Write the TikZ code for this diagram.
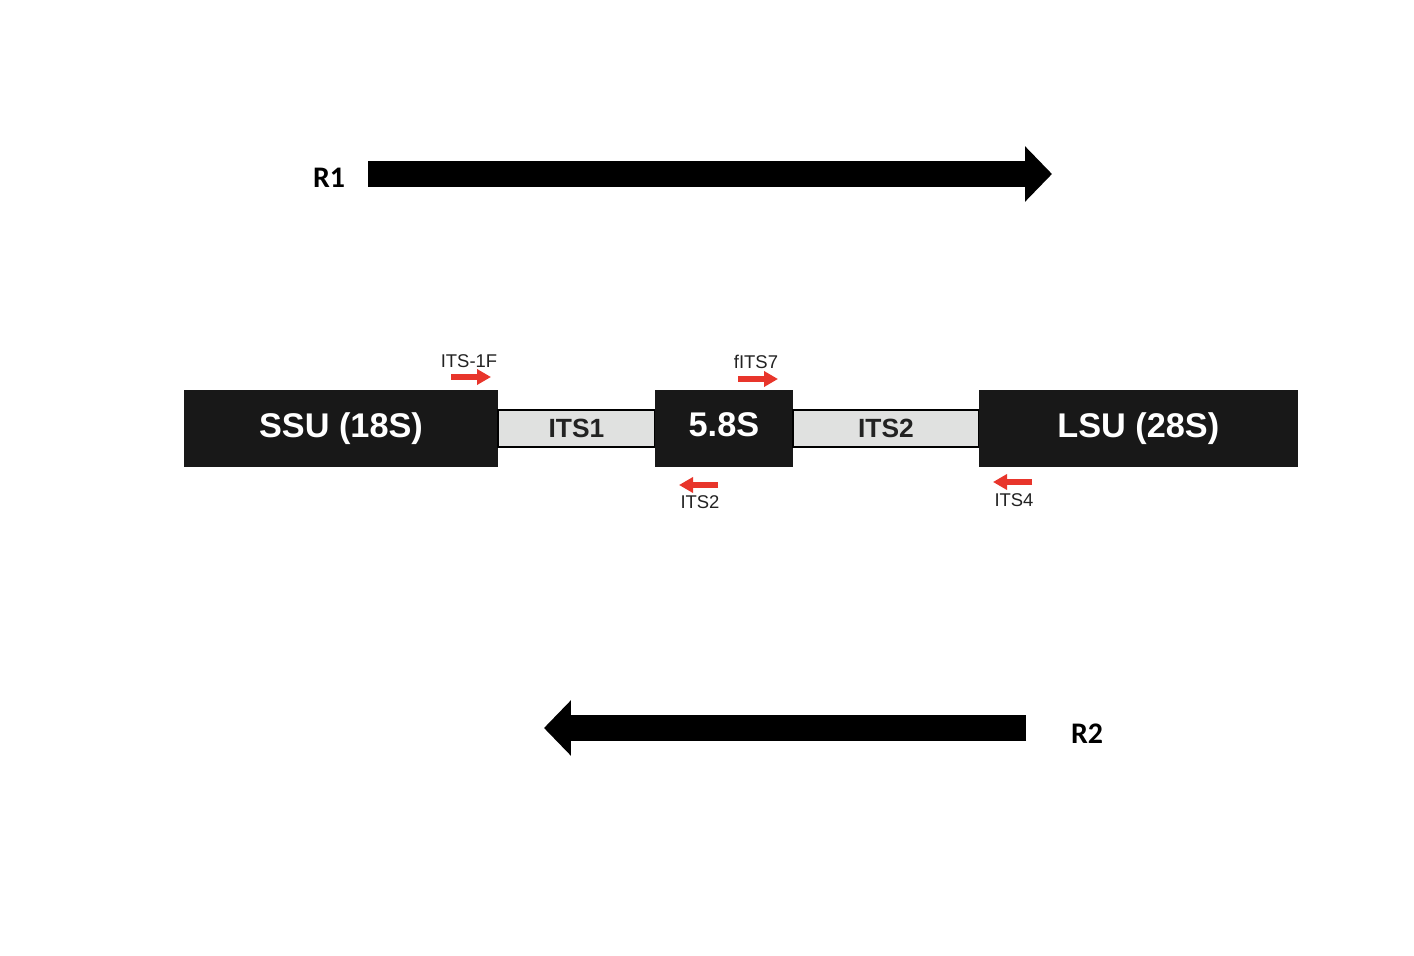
\documentclass[tikz,border=0pt]{standalone}
\usepackage{fontspec}
\setmainfont{Liberation Sans}
\newfontfamily\readfont{Carlito}
\usetikzlibrary{positioning,arrows.meta}
\definecolor{boxblack}{HTML}{181818}
\definecolor{bandgray}{HTML}{E0E1E0}
\definecolor{primerred}{HTML}{E8352B}
\definecolor{textdark}{HTML}{222222}

\begin{document}
\begin{tikzpicture}[x=0.02cm,y=-0.02cm,
  gene/.style={fill=boxblack,minimum height=1.54cm,inner sep=0pt,outer sep=0pt,
    text depth=4.1pt,text=white,font=\bfseries\fontsize{19.5}{20}\selectfont},
  spacer/.style={fill=bandgray,draw=black,line width=0.05cm,minimum height=0.74cm,
    inner sep=0pt,outer sep=0pt,text=textdark,font=\bfseries\fontsize{15}{16}\selectfont},
  primer/.style={primerred,line width=0.11cm,-{Triangle[length=0.28cm,width=0.3cm]}},
  primerlabel/.style={text=textdark,font=\fontsize{10.5}{11}\selectfont,inner sep=1pt},
  read/.style={line width=0.52cm,-{Triangle[length=0.54cm,width=1.08cm]}},
  readlabel/.style={font=\readfont\bfseries\fontsize{17}{18}\selectfont}]
\useasboundingbox (0,0) rectangle (1414,956);

% the rDNA region, left to right
\node[gene,minimum width=6.28cm] (ssu) at (341,428.5) {SSU (18S)};
\node[spacer,minimum width=3.14cm,right=0pt of ssu] (its1) {ITS1};
\node[gene,minimum width=2.76cm,right=0pt of its1] (s58) {5.8S};
\node[spacer,minimum width=3.72cm,right=0pt of s58] (its2) {ITS2};
\node[gene,minimum width=6.38cm,right=0pt of its2] (lsu) {LSU (28S)};

% primers
\coordinate (f1a) at (451,377); \coordinate (f1b) at (491,377);
\draw[primer] (f1a) -- (f1b);
\node[primerlabel] (its1f) at (469,361) {ITS-1F};

\coordinate (f7a) at (738,379); \coordinate (f7b) at (778,379);
\draw[primer] (f7a) -- (f7b);
\node[primerlabel] (fits7) at (756,362) {fITS7};

\coordinate (r2a) at (718,485); \coordinate (r2b) at (679,485);
\draw[primer] (r2a) -- (r2b);
\node[primerlabel] (its2r) at (700,502) {ITS2};

\coordinate (r4a) at (1032,482); \coordinate (r4b) at (993,482);
\draw[primer] (r4a) -- (r4b);
\node[primerlabel] (its4) at (1014,500) {ITS4};

% reads
\coordinate (read1a) at (368,174); \coordinate (read1b) at (1052,174);
\draw[read] (read1a) -- (read1b);
\node[readlabel] (r1) at (329,178) {R1};

\coordinate (read2a) at (1026,728); \coordinate (read2b) at (544,728);
\draw[read] (read2a) -- (read2b);
\node[readlabel] (r2) at (1087,734) {R2};
\end{tikzpicture}
\end{document}
